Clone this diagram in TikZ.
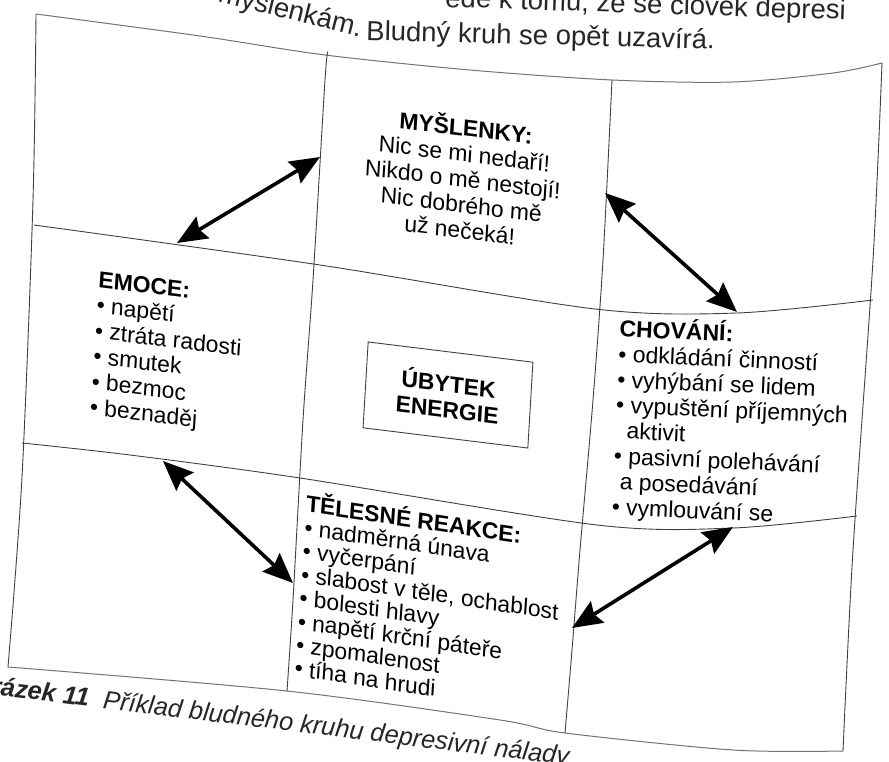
\documentclass[tikz,border=0pt]{standalone}
\usepackage{fontspec}
\setmainfont{Liberation Sans}
\usetikzlibrary{arrows.meta}
\newcommand{\bul}{\textbullet\ }

\begin{document}
\begin{tikzpicture}[x=1pt,y=-1pt,
  line/.style={draw=black!75,line width=0.9pt},
  rim/.style={draw=black!55,line width=1pt},
  dbl/.style={line width=3.6pt,{Stealth[length=30pt,width=25pt,inset=4pt]}-{Stealth[length=30pt,width=25pt,inset=4pt]}},
  txt/.style={inner sep=0pt,align=left,font=\fontsize{23}{25.5}\selectfont},
  page/.style={inner sep=0pt,font=\fontsize{27.5}{32}\selectfont,text=black!85}]
\clip (0,0) rectangle (889,762);
\fill[white] (0,0) rectangle (889,762);

\node[page,rotate=-1.8,anchor=base west] (prev) at (445,7) {ede k tomu, že se člověk depresi};
\node[page,rotate=-14,anchor=base east] (mysl0) at (360,37) {myšlenkám.};
\node[page,rotate=-1.5,anchor=base west] (close) at (366,40) {Bludný kruh se opět uzavírá.};
\node[page,font=\fontsize{25.5}{30}\selectfont,rotate=-7,anchor=base west] (cap) at (-45,690)
  {\textbf{\textit{Obrázek 11}}\ \ \textit{Příklad bludného kruhu depresivní nálady}};

\draw[rim] plot[smooth] coordinates {(36,14) (200,36) (325,55) (470,70) (612,80) (733,82) (833,73) (882,63)};
\draw[rim] plot[smooth] coordinates {(8,667) (287,691) (500,720) (565,733) (733,750) (843,751)};
\draw[line] plot[smooth] coordinates {(36,14) (33,200) (22,477) (8,667)};
\draw[line] plot[smooth] coordinates {(882,63) (873,260) (853,550) (843,751)};
\draw[line] plot[smooth] coordinates {(328,52) (325,80) (313,280) (303,420) (293,600) (287,691)};
\draw[line] plot[smooth] coordinates {(612,80) (603,260) (593,400) (580,550) (572,650) (565,733)};
\draw[line] plot[smooth] coordinates {(34,225) (320,265) (595,309) (737,313) (873,300)};
\draw[line] plot[smooth] coordinates {(22,443) (130,455) (300,478) (597,525) (733,528) (857,516)};

\node[txt,align=center,cm={0.9925,-0.1219,0.0610,0.9981,(0,0)}] (mysl) at (463,177)
  {\textbf{MYŠLENKY:}\\Nic se mi nedaří!\\Nikdo o mě nestojí!\\Nic dobrého mě\\už nečeká!};
\node[txt,cm={0.9925,-0.1219,0.0663,0.9978,(0,0)},anchor=north west] (emoce) at (99,271)
  {\textbf{EMOCE:}\\\bul napětí\\\bul ztráta radosti\\\bul smutek\\\bul bezmoc\\\bul beznaděj};
\node[txt,rotate=-2.5,anchor=north west] (chov) at (620,316)
  {\textbf{CHOVÁNÍ:}\\\bul odkládání činností\\\bul vyhýbání se lidem\\\bul vypuštění příjemných\\\hspace*{0.5em}aktivit\\\bul pasivní polehávání\\\hspace*{0.3em}a posedávání\\\bul vymlouvání se};
\node[txt,font=\fontsize{23}{23.5}\selectfont,cm={0.9893,-0.1461,0.0698,0.9976,(0,0)},anchor=north west] (telo) at (307,491)
  {\textbf{TĚLESNÉ REAKCE:}\\\bul nadměrná únava\\\bul vyčerpání\\\bul slabost v těle, ochablost\\\bul bolesti hlavy\\\bul napětí krční páteře\\\bul zpomalenost\\\bul tíha na hrudi};
\node[txt,align=center,draw=black!75,line width=0.9pt,cm={0.9925,-0.1219,0.0593,0.9982,(0,0)},minimum width=166pt,minimum height=86pt] (ubytek) at (448,395)
  {\textbf{ÚBYTEK}\\\textbf{ENERGIE}};

\coordinate (a1) at (177,243);
\coordinate (b1) at (320,157);
\coordinate (a2) at (605,193);
\coordinate (b2) at (737,312);
\coordinate (a3) at (163,461);
\coordinate (b3) at (293,583);
\coordinate (a4) at (572,628);
\coordinate (b4) at (733,527);
\draw[dbl] (a1) -- (b1);
\draw[dbl] (a2) -- (b2);
\draw[dbl] (a3) -- (b3);
\draw[dbl] (a4) -- (b4);
\end{tikzpicture}
\end{document}
